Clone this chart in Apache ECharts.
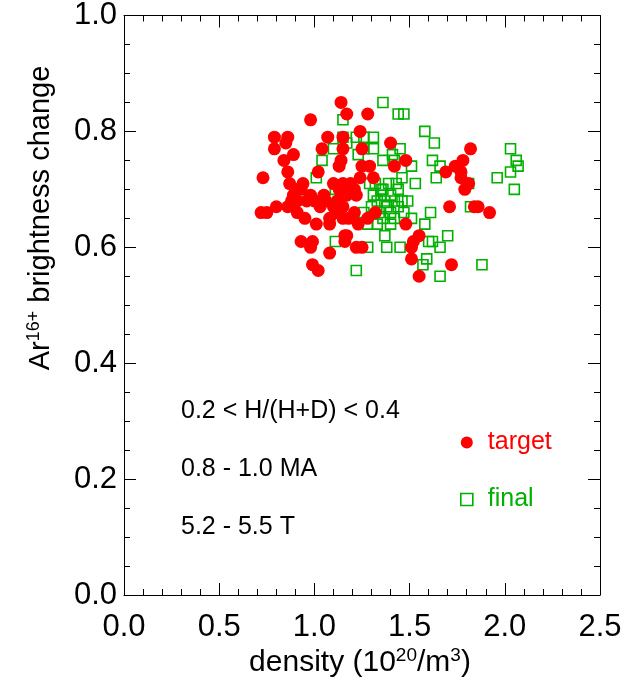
<!DOCTYPE html>
<html>
<head>
<meta charset="utf-8">
<script src="https://cdn.jsdelivr.net/npm/echarts@6/dist/echarts.min.js"></script>
<style>html,body{margin:0;padding:0;background:#fff;}#chart{width:627px;height:684px;}</style>
</head>
<body>
<div id="chart"></div>
<script>
// ---- data (density in 1e20/m^3, brightness change) ----
const targetDensity = [1.14,1.17,1.28,0.98,1.24,0.79,0.86,0.79,0.85,1.07,1.04,1.15,1.15,0.84,0.89,1.14,1.13,0.73,0.86,1.02,0.87,0.94,1.10,0.89,1.40,1.25,1.48,1.42,1.29,1.25,1.31,1.24,1.19,1.15,1.17,1.22,1.82,1.78,1.74,1.69,1.77,1.77,1.81,1.79,1.71,1.84,1.86,1.92,1.72,1.15,1.21,1.28,1.32,1.23,1.48,1.17,1.16,1.22,1.25,1.55,1.52,1.51,1.51,1.55,0.75,0.80,0.86,0.91,0.91,0.95,1.01,1.00,1.06,1.08,1.08,1.15,0.93,0.99,0.98,1.08,1.16,0.99,1.02,0.98,1.05,1.13,1.21,0.93,0.96,1.03,1.10,1.12,0.88,0.90,1.18,1.12,0.72];
const targetBrightness = [0.85,0.83,0.83,0.82,0.80,0.79,0.79,0.77,0.78,0.79,0.77,0.79,0.77,0.75,0.76,0.75,0.74,0.72,0.73,0.73,0.71,0.71,0.71,0.69,0.78,0.77,0.75,0.74,0.74,0.74,0.72,0.72,0.71,0.71,0.69,0.69,0.77,0.75,0.74,0.73,0.73,0.72,0.71,0.70,0.67,0.67,0.67,0.66,0.57,0.67,0.66,0.65,0.66,0.64,0.64,0.62,0.61,0.60,0.60,0.62,0.61,0.60,0.58,0.55,0.66,0.67,0.67,0.68,0.66,0.65,0.64,0.68,0.68,0.64,0.65,0.65,0.61,0.61,0.60,0.59,0.62,0.57,0.56,0.69,0.69,0.70,0.70,0.70,0.68,0.67,0.67,0.68,0.68,0.70,0.65,0.66,0.66];
const finalDensity = [1.36,1.15,1.44,1.47,1.58,1.63,1.15,1.22,1.26,1.31,1.17,1.10,1.04,1.01,1.11,1.26,1.31,1.45,1.41,1.23,1.36,1.42,1.51,1.46,1.53,1.62,1.66,1.64,2.03,2.06,2.07,2.03,1.96,2.05,1.81,1.32,1.29,1.35,1.39,1.43,1.31,1.35,1.40,1.44,1.33,1.37,1.42,1.46,1.30,1.38,1.44,1.34,1.40,1.36,1.42,1.26,1.33,1.28,1.47,1.82,1.61,1.51,1.58,1.37,1.70,1.60,1.38,1.45,1.28,1.66,1.59,1.57,1.66,1.88,1.11,1.22,1.62,1.36,1.49,1.40];
const finalBrightness = [0.85,0.82,0.83,0.83,0.80,0.78,0.79,0.79,0.79,0.79,0.78,0.77,0.75,0.72,0.70,0.77,0.77,0.77,0.76,0.76,0.75,0.75,0.74,0.72,0.71,0.75,0.74,0.72,0.77,0.75,0.74,0.73,0.72,0.70,0.71,0.71,0.71,0.70,0.71,0.71,0.69,0.69,0.69,0.70,0.68,0.68,0.68,0.68,0.67,0.67,0.67,0.66,0.66,0.65,0.65,0.66,0.64,0.64,0.66,0.67,0.66,0.65,0.64,0.62,0.62,0.61,0.60,0.60,0.60,0.60,0.58,0.57,0.55,0.57,0.61,0.56,0.61,0.70,0.68,0.64];
const seriesNames = ['target', 'final'];
const annotations = ['0.2 < H/(H+D) < 0.4', '0.8 - 1.0 MA', '5.2 - 5.5 T'];

const FONT = "'Liberation Sans', Arial, sans-serif";
const RED = '#ff0000', GREEN = '#00b000';

const chart = echarts.init(document.getElementById('chart'), null, {renderer: 'canvas'});

const baseAxis = {
  type: 'value',
  axisLine: {show: true, onZero: false, lineStyle: {color: '#000', width: 1}},
  axisTick: {show: true, inside: true, length: 12, lineStyle: {color: '#000', width: 1}},
  minorTick: {show: true, length: 6, lineStyle: {color: '#000', width: 1}},
  splitLine: {show: false},
  minorSplitLine: {show: false}
};
function ax(extra) { return Object.assign({}, JSON.parse(JSON.stringify(baseAxis)), extra); }

const option = {
  animation: false,
  grid: {left: 124, top: 7, width: 476, height: 588, show: false},
  xAxis: [
    ax({position: 'bottom', min: 0, max: 2.5, interval: 0.5,
        minorTick: {show: true, splitNumber: 5, length: 6, lineStyle: {color: '#000'}},
        axisLabel: {show: true, fontSize: 31, color: '#000', fontFamily: FONT, margin: 17,
                    formatter: v => v.toFixed(1)}}),
    ax({position: 'top', min: 0, max: 2.5, interval: 0.5,
        minorTick: {show: true, splitNumber: 5, length: 6, lineStyle: {color: '#000'}},
        axisLabel: {show: false}})
  ],
  yAxis: [
    ax({position: 'left', min: 0, max: 1, interval: 0.2,
        minorTick: {show: true, splitNumber: 4, length: 6, lineStyle: {color: '#000'}},
        axisLabel: {show: true, fontSize: 31, color: '#000', fontFamily: FONT, margin: 7,
                    formatter: v => v.toFixed(1)}}),
    ax({position: 'right', min: 0, max: 1, interval: 0.2,
        minorTick: {show: true, splitNumber: 4, length: 6, lineStyle: {color: '#000'}},
        axisLabel: {show: false}})
  ],
  legend: {
    orient: 'vertical', left: 455, top: 425, itemGap: 32,
    itemWidth: 12, itemHeight: 12,
    textStyle: {fontSize: 25, fontFamily: FONT, padding: [0, 0, 0, 10]},
    selectedMode: false,
    data: [
      {name: seriesNames[0], icon: 'circle', itemStyle: {color: RED}, textStyle: {color: RED}},
      {name: seriesNames[1], icon: 'rect', itemStyle: {color: 'rgba(0,0,0,0)', borderColor: GREEN, borderWidth: 1.6}, textStyle: {color: GREEN}}
    ]
  },
  series: [
    {
      type: 'scatter', name: seriesNames[1], xAxisIndex: 0, yAxisIndex: 0,
      data: finalDensity.map((x, i) => [x, finalBrightness[i]]),
      symbol: 'rect', symbolSize: 10,
      itemStyle: {color: 'rgba(0,0,0,0)', borderColor: GREEN, borderWidth: 1.6, opacity: 1},
      emphasis: {disabled: true}, z: 2
    },
    {
      type: 'scatter', name: seriesNames[0], xAxisIndex: 0, yAxisIndex: 0,
      data: targetDensity.map((x, i) => [x, targetBrightness[i]]),
      symbol: 'circle', symbolSize: 13,
      itemStyle: {color: RED, opacity: 1},
      emphasis: {disabled: true}, z: 3
    }
  ],
  graphic: [
    {type: 'text', x: 181, y: 411, style: {text: annotations[0], font: '25px ' + FONT, fill: '#000', verticalAlign: 'middle'}},
    {type: 'text', x: 181, y: 469, style: {text: annotations[1], font: '25px ' + FONT, fill: '#000', verticalAlign: 'middle'}},
    {type: 'text', x: 181, y: 527, style: {text: annotations[2], font: '25px ' + FONT, fill: '#000', verticalAlign: 'middle'}},
    {type: 'text', x: 360, y: 662,
     style: {text: '{a|density (10}{s|20}{a|/m}{s|3}{a|)}', align: 'center', verticalAlign: 'middle',
             rich: {a: {fontSize: 30, fontFamily: FONT, fill: '#000', lineHeight: 31, verticalAlign: 'bottom'},
                    s: {fontSize: 19, fontFamily: FONT, fill: '#000', lineHeight: 19, verticalAlign: 'top'}}}},
    {type: 'text', x: 40, y: 218, rotation: Math.PI / 2,
     style: {text: '{a|Ar}{s|16+}{a| brightness change}', align: 'center', verticalAlign: 'middle',
             rich: {a: {fontSize: 29, fontFamily: FONT, fill: '#000', lineHeight: 30, verticalAlign: 'bottom'},
                    s: {fontSize: 18, fontFamily: FONT, fill: '#000', lineHeight: 18, verticalAlign: 'top'}}}}
  ]
};
chart.setOption(option);
</script>
</body>
</html>
